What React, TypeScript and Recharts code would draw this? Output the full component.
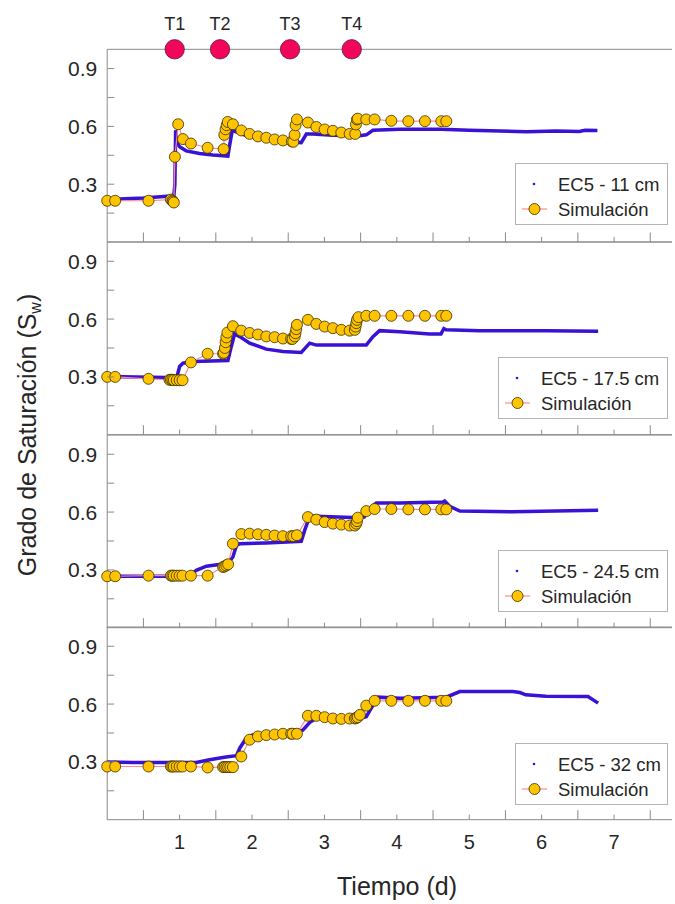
import React from 'react';
import { ComposedChart, Line, XAxis, YAxis, Legend, Scatter } from 'recharts';

// ---------------- data ----------------
const depthLabels = ['EC5 - 11 cm', 'EC5 - 17.5 cm', 'EC5 - 24.5 cm', 'EC5 - 32 cm'];
const simLabel = 'Simulación';
const xTitle = 'Tiempo (d)';

const eventLabels = ['T1', 'T2', 'T3', 'T4'];
const eventTimes = [0.932, 1.558, 2.525, 3.377];

const xTicks = [0.5, 1, 1.5, 2, 2.5, 3, 3.5, 4, 4.5, 5, 5.5, 6, 6.5, 7, 7.5];
const xTickLabels = ['1', '2', '3', '4', '5', '6', '7'];
const yTicks = [0.15, 0.3, 0.45, 0.6, 0.75, 0.9];
const yTickLabels = ['0.3', '0.6', '0.9'];

// Panel 1: 11 cm
const ec11Time = [0.0, 0.5, 0.92, 0.935, 0.945, 0.96, 1.0, 1.09, 1.276, 1.46, 1.667, 1.69, 1.728, 1.78, 1.967, 2.197, 2.427, 2.68, 2.75, 2.84, 3.117, 3.486, 3.578, 3.67, 4.04, 4.61, 5.0, 5.79, 6.2, 6.52, 6.6, 6.77];
const ec11Sw = [0.221, 0.228, 0.24, 0.3, 0.58, 0.52, 0.494, 0.473, 0.459, 0.452, 0.446, 0.5, 0.58, 0.572, 0.546, 0.532, 0.523, 0.516, 0.56, 0.56, 0.554, 0.552, 0.556, 0.58, 0.585, 0.585, 0.58, 0.572, 0.576, 0.574, 0.58, 0.578];
const sim11Time = [0.0, 0.11, 0.57, 0.88, 0.9, 0.91, 0.92, 0.935, 0.98, 1.046, 1.156, 1.387, 1.608, 1.617, 1.635, 1.65, 1.665, 1.736, 1.852, 1.967, 2.082, 2.197, 2.312, 2.427, 2.55, 2.57, 2.588, 2.602, 2.62, 2.772, 2.888, 3.003, 3.117, 3.233, 3.348, 3.425, 3.435, 3.449, 3.46, 3.578, 3.693, 3.924, 4.159, 4.388, 4.614, 4.683];
const sim11Sw = [0.214, 0.214, 0.214, 0.22, 0.215, 0.21, 0.205, 0.442, 0.611, 0.534, 0.511, 0.489, 0.482, 0.556, 0.585, 0.606, 0.623, 0.611, 0.579, 0.561, 0.548, 0.541, 0.532, 0.527, 0.522, 0.52, 0.556, 0.606, 0.636, 0.62, 0.597, 0.584, 0.577, 0.568, 0.561, 0.561, 0.61, 0.636, 0.64, 0.636, 0.636, 0.629, 0.627, 0.627, 0.627, 0.627];

// Panel 2: 17.5 cm
const ec175Time = [0.0, 0.816, 0.96, 1.0, 1.046, 1.184, 1.667, 1.714, 1.76, 1.83, 1.967, 2.197, 2.427, 2.68, 2.796, 2.888, 3.578, 3.67, 3.762, 4.04, 4.45, 4.61, 4.65, 4.68, 5.14, 6.06, 6.78];
const ec175Sw = [0.302, 0.297, 0.297, 0.354, 0.371, 0.38, 0.385, 0.458, 0.523, 0.509, 0.475, 0.444, 0.432, 0.427, 0.475, 0.465, 0.465, 0.509, 0.54, 0.534, 0.523, 0.523, 0.551, 0.545, 0.54, 0.54, 0.537];
const sim175Time = [0.0, 0.11, 0.57, 0.86, 0.88, 0.9, 0.92, 0.96, 1.0, 1.04, 1.156, 1.387, 1.6, 1.61, 1.625, 1.635, 1.645, 1.66, 1.736, 1.852, 1.967, 2.082, 2.197, 2.312, 2.427, 2.54, 2.56, 2.59, 2.6, 2.61, 2.62, 2.772, 2.888, 3.003, 3.117, 3.233, 3.348, 3.42, 3.43, 3.44, 3.45, 3.47, 3.578, 3.693, 3.924, 4.159, 4.388, 4.614, 4.683];
const sim175Sw = [0.3, 0.3, 0.29, 0.285, 0.285, 0.285, 0.283, 0.283, 0.283, 0.283, 0.375, 0.42, 0.42, 0.425, 0.45, 0.48, 0.505, 0.53, 0.563, 0.54, 0.528, 0.52, 0.51, 0.506, 0.499, 0.497, 0.497, 0.51, 0.527, 0.548, 0.57, 0.596, 0.575, 0.561, 0.553, 0.544, 0.54, 0.544, 0.561, 0.579, 0.596, 0.61, 0.617, 0.617, 0.617, 0.617, 0.617, 0.617, 0.617];

// Panel 3: 24.5 cm
const ec245Time = [0.0, 1.138, 1.23, 1.37, 1.52, 1.667, 1.736, 1.785, 1.83, 2.197, 2.68, 2.727, 2.796, 2.888, 3.486, 3.55, 3.6, 3.716, 4.04, 4.64, 4.66, 4.73, 4.87, 5.6, 6.78];
const ec245Sw = [0.267, 0.267, 0.298, 0.319, 0.327, 0.333, 0.367, 0.427, 0.436, 0.44, 0.448, 0.505, 0.578, 0.578, 0.571, 0.575, 0.609, 0.647, 0.647, 0.652, 0.657, 0.63, 0.605, 0.602, 0.609];
const sim245Time = [0.0, 0.11, 0.57, 0.88, 0.9, 0.92, 0.96, 1.0, 1.04, 1.156, 1.387, 1.6, 1.62, 1.645, 1.67, 1.736, 1.852, 1.967, 2.082, 2.197, 2.312, 2.427, 2.54, 2.57, 2.62, 2.772, 2.888, 3.003, 3.117, 3.233, 3.348, 3.42, 3.44, 3.45, 3.46, 3.578, 3.693, 3.924, 4.159, 4.388, 4.614, 4.683];
const sim245Sw = [0.267, 0.267, 0.27, 0.27, 0.27, 0.27, 0.27, 0.27, 0.27, 0.27, 0.27, 0.315, 0.318, 0.323, 0.329, 0.436, 0.486, 0.488, 0.485, 0.482, 0.478, 0.475, 0.475, 0.475, 0.48, 0.574, 0.561, 0.548, 0.54, 0.535, 0.53, 0.53, 0.54, 0.553, 0.571, 0.605, 0.616, 0.616, 0.614, 0.614, 0.614, 0.614];

// Panel 4: 32 cm
const ec32Time = [0.0, 0.36, 1.23, 1.414, 1.64, 1.785, 1.83, 1.92, 2.01, 2.197, 2.66, 2.7, 2.796, 2.888, 3.486, 3.578, 3.647, 3.74, 4.04, 4.683, 4.87, 5.6, 5.7, 5.78, 6.06, 6.64, 6.78];
const ec32Sw = [0.299, 0.297, 0.297, 0.311, 0.325, 0.332, 0.371, 0.423, 0.44, 0.449, 0.461, 0.465, 0.504, 0.527, 0.527, 0.535, 0.579, 0.636, 0.63, 0.636, 0.665, 0.665, 0.66, 0.648, 0.641, 0.639, 0.605];
const sim32Time = [0.0, 0.11, 0.57, 0.88, 0.9, 0.92, 0.96, 1.0, 1.04, 1.156, 1.387, 1.6, 1.62, 1.645, 1.67, 1.7, 1.736, 1.852, 1.967, 2.082, 2.197, 2.312, 2.427, 2.54, 2.56, 2.62, 2.772, 2.888, 3.003, 3.117, 3.233, 3.348, 3.42, 3.44, 3.46, 3.49, 3.578, 3.693, 3.924, 4.159, 4.388, 4.614, 4.683];
const sim32Sw = [0.276, 0.276, 0.276, 0.276, 0.276, 0.276, 0.276, 0.276, 0.276, 0.276, 0.271, 0.273, 0.273, 0.273, 0.273, 0.273, 0.273, 0.328, 0.415, 0.432, 0.439, 0.442, 0.446, 0.446, 0.446, 0.446, 0.539, 0.539, 0.532, 0.525, 0.523, 0.525, 0.525, 0.528, 0.532, 0.544, 0.592, 0.617, 0.617, 0.617, 0.617, 0.617, 0.617];

// ---------------- build ----------------
const zip = (t: number[], v: number[]) => t.map((x, i) => ({ t: x, sw: v[i] }));
const measuredSeries = [zip(ec11Time, ec11Sw), zip(ec175Time, ec175Sw), zip(ec245Time, ec245Sw), zip(ec32Time, ec32Sw)];
const simSeries = [zip(sim11Time, sim11Sw), zip(sim175Time, sim175Sw), zip(sim245Time, sim245Sw), zip(sim32Time, sim32Sw)];
const events = eventTimes.map((t, i) => ({ t, sw: 1, label: eventLabels[i] }));

// ---------------- style ----------------
const FONT = '"Liberation Sans", Arial, sans-serif';
const AXIS = '#8a8a8a';
const TEXT = '#262626';
const BLUE = '#3a12d6';
const PINK = '#ff8a8a';
const GOLD = '#ffc400';
const DOT_STROKE = '#3a3000';
const EVENT = '#f2065c';

const PANEL_H = 192.7;
const FIRST_BOTTOM = 242;
const PLOT_LEFT = 107.2;
const CHART_W = 675;
const RIGHT_MARGIN = 3;
const AX_H = 1;
const legendLeft = [515, 498, 498, 515];
const legendOffset = [113.7, 115, 115.3, 115.6];
const LEGEND_RIGHT = 668;
const LEGEND_H = 62;

const isInt = (v: number) => Math.abs(v - Math.round(v)) < 1e-6;

const makeXTick = (dir: number, longLen: number, shortLen: number, showLabels: boolean) => (props: any) => {
  const { x, y, payload } = props;
  const v = payload.value as number;
  const integer = isInt(v);
  const L = integer ? shortLen : longLen;
  return (
    <g>
      <line x1={x} x2={x} y1={y} y2={y + dir * L} stroke={AXIS} strokeWidth={1} />
      {showLabels && integer ? (
        <text x={x} y={y + 29.5} textAnchor="middle" fill={TEXT} style={{ fontFamily: FONT, fontSize: 20 }}>
          {xTickLabels[Math.round(v) - 1]}
        </text>
      ) : null}
    </g>
  );
};

const YTick = (props: any) => {
  const { x, y, payload } = props;
  const v = payload.value as number;
  const lbl = yTickLabels.find((s) => Math.abs(parseFloat(s) - v) < 1e-6);
  return (
    <g>
      <line x1={x} x2={x + 7} y1={y} y2={y} stroke={AXIS} strokeWidth={1} />
      {lbl ? (
        <text x={x - 10} y={y} dy="0.36em" textAnchor="end" fill={TEXT} style={{ fontFamily: FONT, fontSize: 21 }}>
          {lbl}
        </text>
      ) : null}
    </g>
  );
};

const EventShape = (props: any) => {
  const { cx, cy, payload } = props;
  return (
    <g>
      <circle cx={cx} cy={cy} r={9.7} fill={EVENT} stroke="#5a2030" strokeWidth={0.8} />
      <text x={cx} y={cy - 19.5} textAnchor="middle" fill={TEXT} style={{ fontFamily: FONT, fontSize: 18 }}>
        {payload.label}
      </text>
    </g>
  );
};

const LegendBox = ({ label, width }: { label: string; width: number }) => (
  <div
    style={{
      boxSizing: 'border-box',
      width,
      height: LEGEND_H,
      border: '1px solid #b4b4b4',
      background: '#fff',
    }}
  >
    <svg width={width - 2} height={LEGEND_H - 2} style={{ display: 'block' }}>
      <circle cx={18} cy={20} r={1.3} fill={BLUE} />
      <text x={42} y={26.5} fill={TEXT} style={{ fontFamily: FONT, fontSize: 18.5 }}>
        {label}
      </text>
      <line x1={6} x2={31} y1={45} y2={45} stroke={PINK} strokeWidth={1.2} />
      <circle cx={18.5} cy={45} r={5.5} fill={GOLD} stroke={DOT_STROKE} strokeWidth={0.8} />
      <text x={42} y={51.5} fill={TEXT} style={{ fontFamily: FONT, fontSize: 18.5 }}>
        {simLabel}
      </text>
    </svg>
  </div>
);

function Panel({ index }: { index: number }) {
  const plotTop = FIRST_BOTTOM + index * PANEL_H - PANEL_H;
  const outerTop = index === 0 ? plotTop : 15; // space above the plot area
  const outerBottom = index === 3 ? 60 : 15; // space below the plot area
  const height = outerTop + PANEL_H + outerBottom;
  const divTop = plotTop - outerTop;
  const lw = LEGEND_RIGHT - legendLeft[index];
  const isLast = index === 3;
  return (
    <div style={{ position: 'absolute', left: 0, top: divTop }}>
      <ComposedChart
        width={CHART_W}
        height={height}
        margin={{ top: outerTop - AX_H, right: RIGHT_MARGIN, bottom: outerBottom - AX_H, left: 0 }}
      >
        <XAxis
          xAxisId="b"
          dataKey="t"
          type="number"
          domain={[0, 7.8]}
          ticks={xTicks}
          interval={0}
          height={AX_H}
          tickSize={0}
          tickMargin={0}
          tickLine={false}
          axisLine={{ stroke: AXIS }}
          tick={makeXTick(-1, 9.5, 5, isLast)}
        />
        <XAxis
          xAxisId="top"
          orientation="top"
          dataKey="t"
          type="number"
          domain={[0, 7.8]}
          ticks={xTicks}
          interval={0}
          height={AX_H}
          tickSize={0}
          tickMargin={0}
          tickLine={false}
          axisLine={{ stroke: AXIS }}
          tick={index === 0 ? makeXTick(1, 6, 4, false) : makeXTick(1, 9.5, 5, false)}
        />
        <YAxis
          type="number"
          domain={[0, 1]}
          ticks={yTicks}
          interval={0}
          width={PLOT_LEFT}
          tickSize={0}
          tickMargin={0}
          tickLine={false}
          axisLine={{ stroke: AXIS }}
          tick={YTick}
        />
        <Line
          xAxisId="b"
          data={measuredSeries[index]}
          dataKey="sw"
          type="linear"
          stroke={BLUE}
          strokeWidth={3.5}
          dot={false}
          activeDot={false}
          isAnimationActive={false}
          name={depthLabels[index]}
        />
        <Line
          xAxisId="b"
          data={simSeries[index]}
          dataKey="sw"
          type="linear"
          stroke={PINK}
          strokeWidth={1.2}
          dot={{ r: 5.5, fill: GOLD, stroke: DOT_STROKE, strokeWidth: 0.8 }}
          activeDot={false}
          isAnimationActive={false}
          name={simLabel}
        />
        {index === 0 ? (
          <Scatter xAxisId="b" data={events} dataKey="sw" shape={EventShape} isAnimationActive={false} />
        ) : null}
        <Legend
          layout="horizontal"
          verticalAlign="middle"
          align="center"
          wrapperStyle={{
            position: 'absolute',
            left: legendLeft[index],
            top: outerTop + legendOffset[index],
            width: lw,
            height: LEGEND_H,
          }}
          content={() => <LegendBox label={depthLabels[index]} width={lw} />}
        />
      </ComposedChart>
    </div>
  );
}

export default function App() {
  return (
    <div style={{ position: 'absolute', left: 0, top: 0, width: 675, height: 904, background: '#fff' }}>
      {[0, 1, 2, 3].map((i) => (
        <Panel key={i} index={i} />
      ))}
      <svg
        width={675}
        height={904}
        style={{ position: 'absolute', left: 0, top: 0, pointerEvents: 'none' }}
      >
        <text
          transform="translate(36, 435) rotate(-90)"
          textAnchor="middle"
          fill={TEXT}
          style={{ fontFamily: FONT, fontSize: 25 }}
        >
          Grado de Saturación (S
          <tspan fontSize={16} dy={5}>w</tspan>
          <tspan dy={-5}>)</tspan>
        </text>
        <text x={397} y={895} textAnchor="middle" fill={TEXT} style={{ fontFamily: FONT, fontSize: 25 }}>
          {xTitle}
        </text>
      </svg>
    </div>
  );
}
